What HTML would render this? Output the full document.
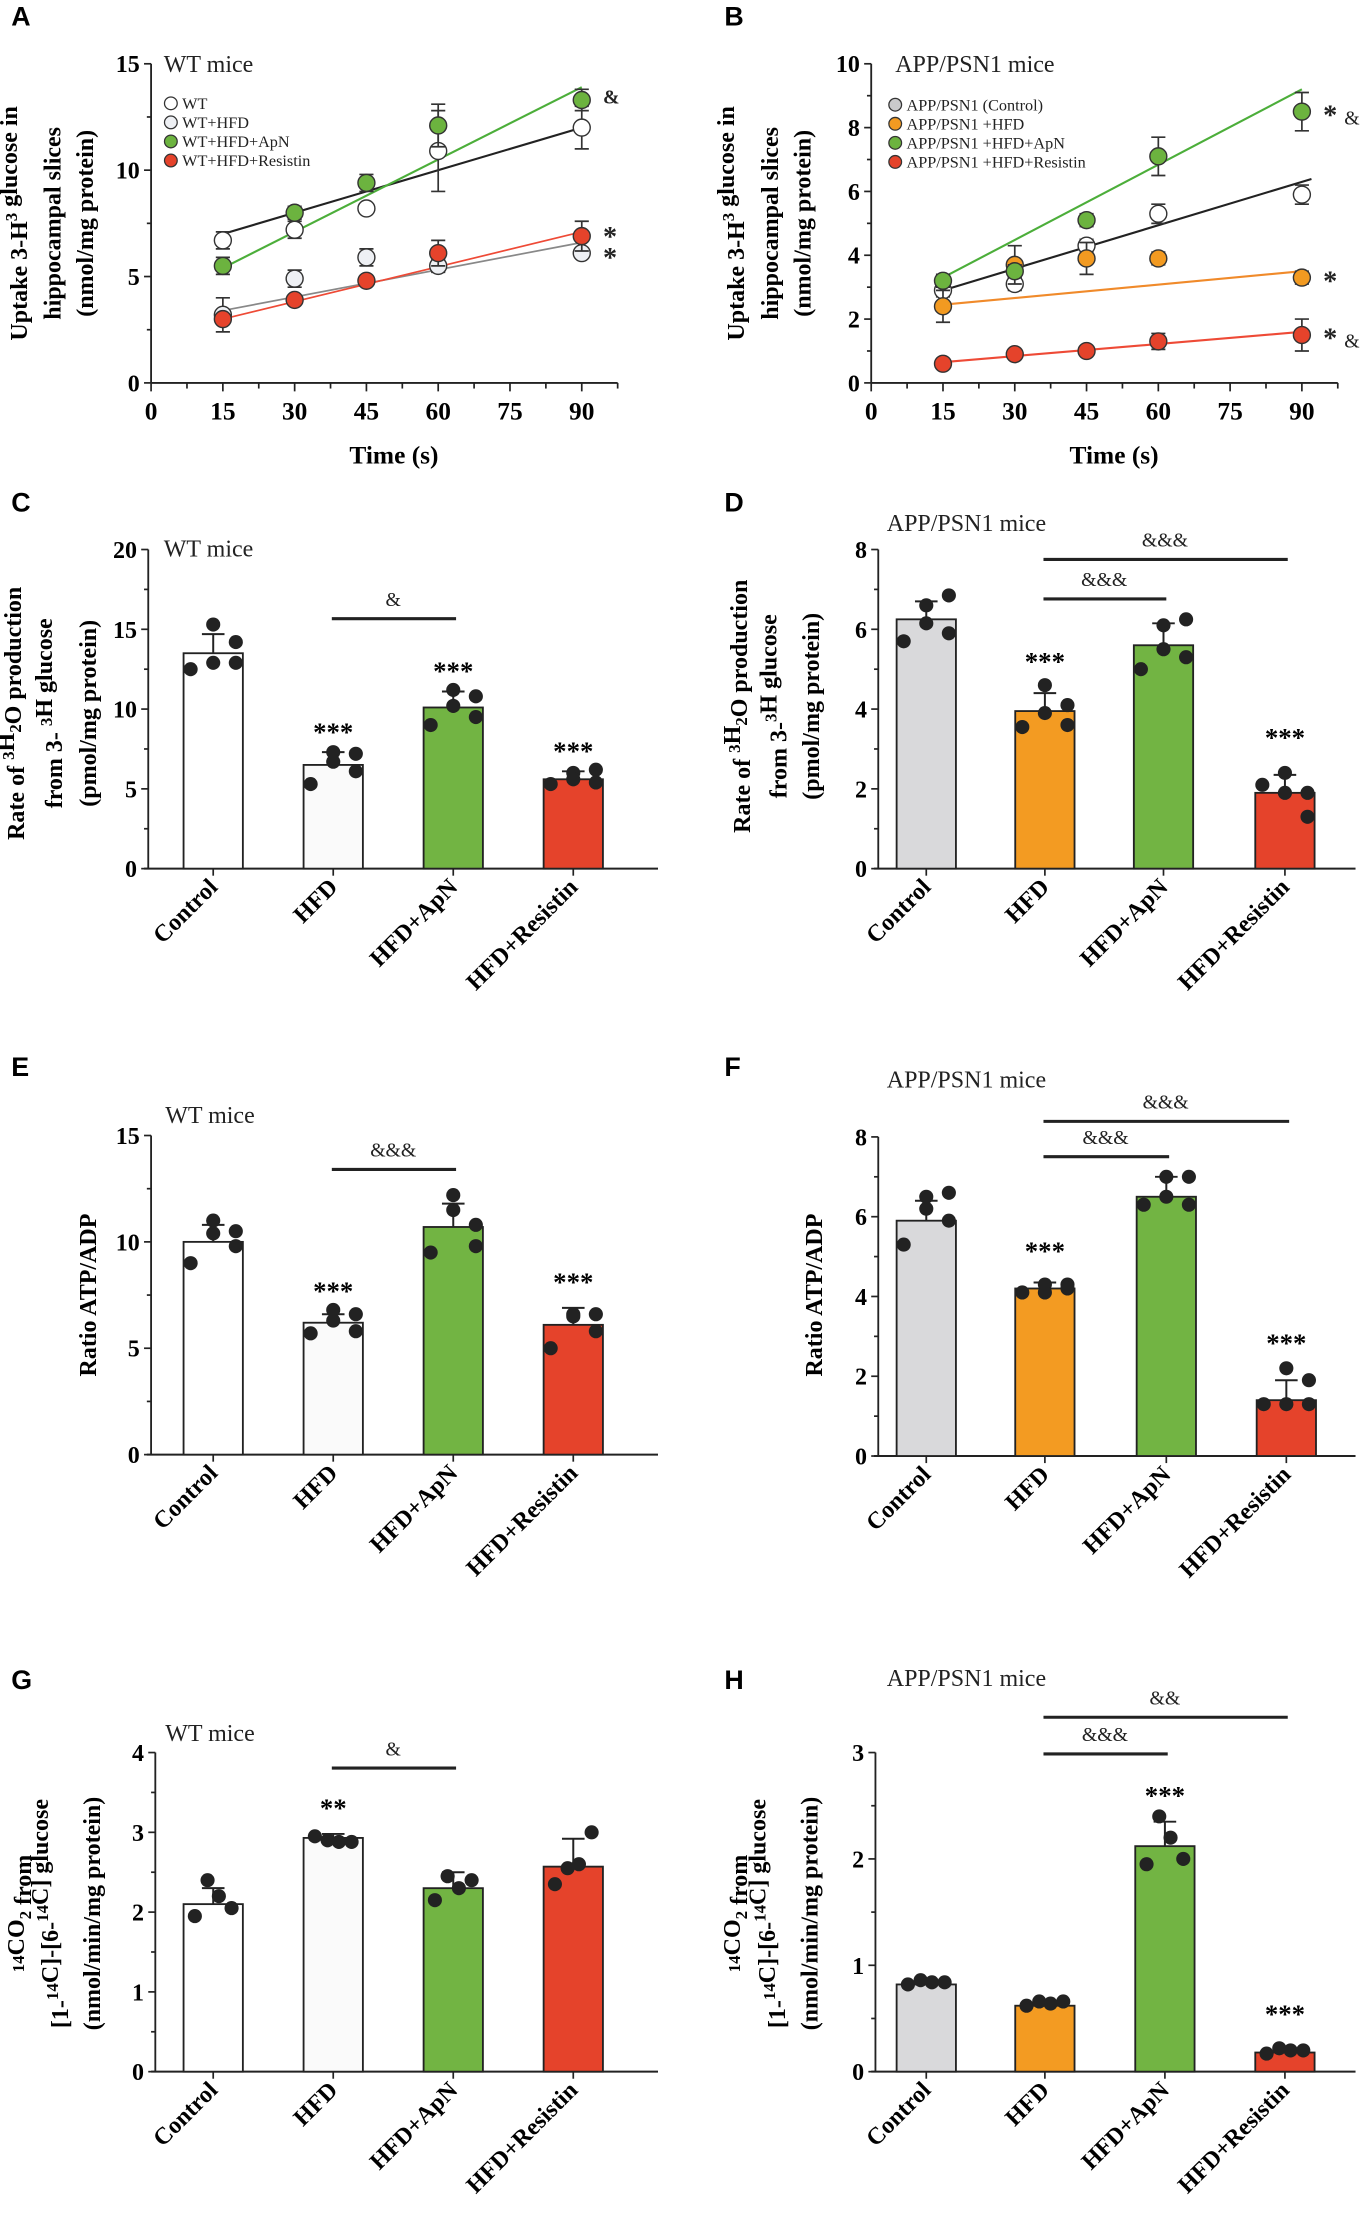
<!DOCTYPE html>
<html><head><meta charset="utf-8">
<style>
html,body{margin:0;padding:0;background:#fff;}
svg{display:block;}
text{font-family:"Liberation Serif",serif;}
.pl{font-family:"Liberation Sans",sans-serif;font-weight:bold;font-size:19px;}
</style></head>
<body>
<svg id="fig" xmlns="http://www.w3.org/2000/svg" width="1364" height="2223" viewBox="0 0 966 1574"></svg>
<script>
// ---------- Panel A data (WT mice, uptake) ----------
const timesA = [15, 30, 45, 60, 90];
const aWT = [6.7, 7.2, 8.2, 10.9, 12.0];
const aWTerr = [0.4, 0.4, 0, 1.9, 1.0];
const aHFD = [3.2, 4.9, 5.9, 5.5, 6.1];
const aHFDerr = [0.8, 0.4, 0.4, 0.3, 0];
const aApN = [5.5, 8.0, 9.4, 12.1, 13.3];
const aApNerr = [0.4, 0.3, 0.4, 1.0, 0.5];
const aRes = [3.0, 3.9, 4.8, 6.1, 6.9];
const aReserr = [0, 0.2, 0.2, 0.6, 0.7];
// fitted line values at start (15 s) and end (90 s) as printed
const aFitWT = [7.0, 12.0];
const aFitHFD = [3.4, 6.6];
const aFitApN = [5.4, 13.9];
const aFitRes = [3.0, 7.1];
// ---------- Panel B data (APP/PSN1 mice, uptake) ----------
const timesB = [15, 30, 45, 60, 90];
const bCtl = [2.9, 3.1, 4.3, 5.3, 5.9];
const bCtlerr = [0.2, 0.2, 0.2, 0.3, 0.3];
const bHFD = [2.4, 3.7, 3.9, 3.9, 3.3];
const bHFDerr = [0.5, 0.6, 0.5, 0.2, 0.2];
const bApN = [3.2, 3.5, 5.1, 7.1, 8.5];
const bApNerr = [0.2, 0.2, 0.2, 0.6, 0.6];
const bRes = [0.6, 0.9, 1.0, 1.3, 1.5];
const bReserr = [0, 0.1, 0.1, 0.25, 0.5];
const bFitCtl = [2.9, 6.3];
const bFitHFD = [2.45, 3.5];
const bFitApN = [3.3, 9.2];
const bFitRes = [0.65, 1.6];
// ---------- Bar categories ----------
const categories = ["Control", "HFD", "HFD+ApN", "HFD+Resistin"];
// C
const cMeans = [13.5, 6.5, 10.1, 5.6];
const cErr = [1.2, 0.8, 1.0, 0.5];
const cDots = [[12.5, 15.3, 12.9, 14.2, 12.9], [5.3, 7.3, 6.7, 7.2, 6.1], [9.0, 11.2, 10.2, 10.8, 9.5], [5.3, 6.0, 5.6, 6.2, 5.4]];
// D
const dMeans = [6.25, 3.95, 5.6, 1.9];
const dErr = [0.45, 0.45, 0.55, 0.45];
const dDots = [[5.7, 6.6, 6.15, 6.85, 5.9], [3.55, 4.6, 3.9, 4.1, 3.6], [5.0, 6.1, 5.5, 6.25, 5.3], [2.1, 2.4, 1.9, 1.3, 1.9]];
// E
const eMeans = [10.0, 6.2, 10.7, 6.1];
const eErr = [0.8, 0.4, 1.1, 0.8];
const eDots = [[9.0, 11.0, 10.4, 10.5, 9.8], [5.7, 6.8, 6.3, 6.6, 5.8], [9.5, 12.2, 11.5, 10.8, 9.8], [5.0, 6.6, 6.5, 6.6, 5.8]];
// F
const fMeans = [5.9, 4.2, 6.5, 1.4];
const fErr = [0.5, 0.15, 0.5, 0.5];
const fDots = [[5.3, 6.5, 6.2, 6.6, 5.9], [4.1, 4.3, 4.1, 4.3, 4.2], [6.3, 7.0, 6.5, 7.0, 6.3], [1.3, 2.2, 1.3, 1.9, 1.3]];
// G
const gMeans = [2.1, 2.93, 2.3, 2.57];
const gErr = [0.2, 0.05, 0.2, 0.35];
const gDots = [[1.95, 2.4, 2.2, 2.05], [2.95, 2.9, 2.88, 2.88], [2.15, 2.45, 2.3, 2.4], [2.35, 2.55, 2.6, 3.0]];
// H
const hMeans = [0.82, 0.62, 2.12, 0.18];
const hErr = [0.04, 0.04, 0.23, 0.04];
const hDots = [[0.82, 0.86, 0.84, 0.84], [0.62, 0.66, 0.64, 0.66], [1.95, 2.4, 2.2, 2.0], [0.17, 0.22, 0.2, 0.2]];

const NS = 'http://www.w3.org/2000/svg';
const fig = document.getElementById('fig');
function mk(tag, attrs, parent) {
  const e = document.createElementNS(NS, tag);
  for (const k in attrs) e.setAttribute(k, attrs[k]);
  (parent || fig).appendChild(e);
  return e;
}
function tx(x, y, html, attrs, parent) {
  const a = Object.assign({x: x, y: y}, attrs || {});
  const t = mk('text', a, parent);
  t.innerHTML = html;
  return t;
}
function grp(name) {
  const g = mk('g', {});
  
  
  return g;
}
function ylab(g, xs, cy, lines, size) {
  lines.forEach((l, i) => {
    const t = tx(xs[i], cy, l, {'font-size': size || 17, 'font-weight': 'bold', 'text-anchor': 'middle', transform: 'rotate(-90 ' + xs[i] + ' ' + cy + ')'}, g);
    
    
  });
}
function yAxis(g, ox, y0, ytop, ymax, major, minor) {
  const sy = v => y0 - (y0 - ytop) * v / ymax;
  const ax = mk('line', {x1: ox, y1: y0, x2: ox, y2: ytop, stroke: '#222', 'stroke-width': 1.3}, g);
  
  
  for (let v = 0; v <= ymax + 1e-9; v += minor) {
    const isMaj = Math.abs(v / major - Math.round(v / major)) < 1e-6;
    mk('line', {x1: ox - (isMaj ? 5 : 3), y1: sy(v), x2: ox, y2: sy(v), stroke: '#222', 'stroke-width': 1.2}, g);
    if (isMaj) {
      const t = tx(ox - 8, sy(v) + 6, String(Math.round(v * 10) / 10), {'font-size': 17, 'font-weight': 'bold', 'text-anchor': 'end'}, g);
      
      
    }
  }
  return sy;
}

function lineChart(c) {
  const g = grp(c.name);
  const sy = yAxis(g, c.ox, c.y0, c.ytop, c.ymax, c.major, c.minor);
  const sx = v => c.ox + v * 3.389;
  const xa = mk('line', {x1: c.ox, y1: c.y0, x2: sx(97.5), y2: c.y0, stroke: '#222', 'stroke-width': 1.3}, g);
  
  
  for (let v = 0; v <= 97.5; v += 7.5) {
    const maj = v % 15 === 0;
    mk('line', {x1: sx(v), y1: c.y0, x2: sx(v), y2: c.y0 + (maj ? 6 : 4), stroke: '#222', 'stroke-width': 1.2}, g);
    if (maj) {
      const t = tx(sx(v), c.y0 + 26, String(v), {'font-size': 18, 'font-weight': 'bold', 'text-anchor': 'middle'}, g);
      
      
    }
  }
  const xt = tx(c.ox + 172, c.y0 + 57, 'Time (s)', {'font-size': 18, 'font-weight': 'bold', 'text-anchor': 'middle'}, g);
  
  
  c.series.forEach(s => {
    const xe = s.xend || 90;
    const f = x => s.fit[0] + (s.fit[1] - s.fit[0]) * (x - 15) / 75;
    const l = mk('line', {x1: sx(15), y1: sy(f(15)), x2: sx(xe), y2: sy(f(xe)), stroke: s.line, 'stroke-width': s.lw || 1.5}, g);
    
    
  });
  c.series.forEach(s => {
    s.v.forEach((v, i) => {
      const x = sx(c.times[i]), e = s.e[i];
      if (e > 0) {
        const eb = mk('path', {d: 'M' + x + ' ' + sy(v - e) + 'V' + sy(v + e) + 'M' + (x - 5) + ' ' + sy(v - e) + 'h10M' + (x - 5) + ' ' + sy(v + e) + 'h10', stroke: '#333', 'stroke-width': 1.2, fill: 'none'}, g);
        
        
      }
      const p = mk('circle', {cx: x, cy: sy(v), r: 6, fill: s.fill, stroke: '#333', 'stroke-width': 1}, g);
      
      
    });
  });
  c.series.forEach((s, i) => {
    const y = c.legY + i * 13.5;
    const m = mk('circle', {cx: c.legX, cy: y, r: 4.5, fill: s.legFill || s.fill, stroke: '#333', 'stroke-width': 0.9}, g);
    
    
    const t = tx(c.legX + 8, y + 4, s.label, {'font-size': 11.5, fill: '#222'}, g);
    
    
  });
  const tt = tx(c.titleX, c.ytop + 6, c.title, {'font-size': 17, fill: '#222'}, g);
  
  
  c.marks.forEach(m => {
    const t = tx(sx(90) + 15, sy(m[0]) + m[2], m[1], {'font-size': m[3] || 15, 'font-weight': 'bold', fill: '#222'}, g);
    
    
  });
  return g;
}

function barChart(c) {
  const g = grp(c.name);
  const sy = yAxis(g, c.ox, c.y0, c.ytop, c.ymax, c.major, c.minor);
  const xa = mk('line', {x1: c.ox - 3, y1: c.y0, x2: c.xend, y2: c.y0, stroke: '#222', 'stroke-width': 1.4}, g);
  
  
  c.means.forEach((m, i) => {
    const cx = c.cx[i], w = 42;
    const b = mk('rect', {x: cx - w / 2, y: sy(m), width: w, height: c.y0 - sy(m), fill: c.colors[i], stroke: '#222', 'stroke-width': 1.3}, g);
    
    
    const top = m + c.err[i];
    const eb = mk('path', {d: 'M' + cx + ' ' + sy(m) + 'V' + sy(top) + 'M' + (cx - 8) + ' ' + sy(top) + 'h16', stroke: '#222', 'stroke-width': 1.4, fill: 'none'}, g);
    
    
    mk('line', {x1: cx, y1: c.y0, x2: cx, y2: c.y0 + 5, stroke: '#222', 'stroke-width': 1.2}, g);
    const dots = c.dots[i];
    const offs = dots.length === 5 ? [-16, 0, 0, 16, 16] : [-13, -4, 4, 13];
    dots.forEach((v, j) => {
      const d = mk('circle', {cx: cx + offs[j], cy: sy(v), r: 5, fill: '#222'}, g);
      
      
    });
    const lx = cx + 4, ly = c.y0 + 14;
    const t = tx(lx, ly, categories[i], {'font-size': 17, 'font-weight': 'bold', 'text-anchor': 'end', transform: 'rotate(-45 ' + lx + ' ' + ly + ')'}, g);
    
    
  });
  c.stars.forEach(s => {
    const i = s[0];
    const t = tx(c.cx[i], sy(c.means[i] + c.err[i]) - s[2], s[1], {'font-size': 19, 'font-weight': 'bold', 'text-anchor': 'middle'}, g);
    
    
  });
  c.brackets.forEach(b => {
    const l = mk('line', {x1: c.cx[b[0]] - 1, y1: b[2], x2: c.cx[b[1]] + 2, y2: b[2], stroke: '#222', 'stroke-width': 2.2}, g);
    
    
    const t = tx((c.cx[b[0]] + c.cx[b[1]]) / 2, b[2] - 9, b[3], {'font-size': 14, 'text-anchor': 'middle', fill: '#222'}, g);
    
    
  });
  const tt = tx(c.titleX, c.titleY, c.title, {'font-size': 17, fill: '#222'}, g);
  
  
  return g;
}

[['A', 8, 18], ['B', 513, 18], ['C', 8, 362], ['D', 513, 362], ['E', 8, 762], ['F', 513, 762], ['G', 8, 1196], ['H', 513, 1196]].forEach(p => {
  const t = tx(p[1], p[2], p[0], {'class': 'pl'});
  
  
});

const sup = s => '<tspan font-size="12" dy="-7">' + s + '</tspan><tspan dy="7"></tspan>';
const sub = s => '<tspan font-size="12" dy="5">' + s + '</tspan><tspan dy="-5"></tspan>';

const gA = lineChart({name: 'panel-a-chart', ox: 107, y0: 271, ytop: 45, ymax: 15, major: 5, minor: 2.5, times: timesA,
  title: 'WT mice', titleX: 116, legX: 121, legY: 73,
  series: [
    {key: 'wt', v: aWT, e: aWTerr, fit: aFitWT, fill: '#fff', line: '#222', label: 'WT'},
    {key: 'wt-hfd', v: aHFD, e: aHFDerr, fit: aFitHFD, fill: '#eef0f4', line: '#888', label: 'WT+HFD', lw: 1.2},
    {key: 'wt-hfd-apn', v: aApN, e: aApNerr, fit: aFitApN, fill: '#6cb33f', line: '#4cae3a', label: 'WT+HFD+ApN'},
    {key: 'wt-hfd-resistin', v: aRes, e: aReserr, fit: aFitRes, fill: '#e5432b', line: '#ee4a36', label: 'WT+HFD+Resistin', lw: 1.2}],
  marks: [[13.4, '&amp;', 4, 14], [6.9, '*', 7, 20], [6.1, '*', 10, 20]]});
ylab(gA, [19, 43, 66], 158, ['Uptake 3-H' + sup('3') + ' glucose in', 'hippocampal slices', '(nmol/mg protein)']);

const gB = lineChart({name: 'panel-b-chart', ox: 617, y0: 271, ytop: 45, ymax: 10, major: 2, minor: 1, times: timesB,
  title: 'APP/PSN1 mice', titleX: 634, legX: 634, legY: 74,
  series: [
    {key: 'app-control', v: bCtl, e: bCtlerr, fit: bFitCtl, fill: '#fff', legFill: '#c9c9cb', line: '#222', label: 'APP/PSN1 (Control)', xend: 92},
    {key: 'app-hfd', v: bHFD, e: bHFDerr, fit: bFitHFD, fill: '#f29a21', line: '#f08a2a', label: 'APP/PSN1 +HFD'},
    {key: 'app-hfd-apn', v: bApN, e: bApNerr, fit: bFitApN, fill: '#6cb33f', line: '#4cae3a', label: 'APP/PSN1 +HFD+ApN'},
    {key: 'app-hfd-resistin', v: bRes, e: bReserr, fit: bFitRes, fill: '#e5432b', line: '#ee4a36', label: 'APP/PSN1 +HFD+Resistin'}],
  marks: [[8.5, '* <tspan font-weight="normal" font-size="14">&amp;</tspan>', 9, 20], [3.3, '*', 9, 20], [1.5, '* <tspan font-weight="normal" font-size="14">&amp;</tspan>', 9, 20]]});
ylab(gB, [527, 551, 574], 158, ['Uptake 3-H' + sup('3') + ' glucose in', 'hippocampal slices', '(nmol/mg protein)']);

const colWT = ['#ffffff', '#fafafa', '#72b443', '#e5432b'];
const colAPP = ['#d9d9db', '#f39b22', '#72b443', '#e5432b'];

const gC = barChart({name: 'panel-c-chart', ox: 105, y0: 615, ytop: 389, ymax: 20, major: 5, minor: 2.5, xend: 466,
  cx: [151, 236, 321, 406], means: cMeans, err: cErr, dots: cDots, colors: colWT,
  stars: [[1, '***', 8], [2, '***', 8], [3, '***', 8]], brackets: [[1, 2, 438, '&amp;']],
  title: 'WT mice', titleX: 116, titleY: 394});
ylab(gC, [17, 44, 68], 505, ['Rate of  ' + sup('3') + 'H' + sub('2') + 'O production', 'from 3- ' + sup('3') + 'H glucose', '(pmol/mg protein)']);

const gD = barChart({name: 'panel-d-chart', ox: 622, y0: 615, ytop: 389, ymax: 8, major: 2, minor: 1, xend: 960,
  cx: [656, 740, 824, 910], means: dMeans, err: dErr, dots: dDots, colors: colAPP,
  stars: [[1, '***', 16], [3, '***', 20]], brackets: [[1, 2, 424, '&amp;&amp;&amp;'], [1, 3, 396, '&amp;&amp;&amp;']],
  title: 'APP/PSN1 mice', titleX: 628, titleY: 376});
ylab(gD, [531, 557, 580], 500, ['Rate of ' + sup('3') + 'H' + sub('2') + 'O production', 'from 3-' + sup('3') + 'H glucose', '(pmol/mg protein)']);

const gE = barChart({name: 'panel-e-chart', ox: 107, y0: 1030, ytop: 804, ymax: 15, major: 5, minor: 2.5, xend: 466,
  cx: [151, 236, 321, 406], means: eMeans, err: eErr, dots: eDots, colors: colWT,
  stars: [[1, '***', 10], [3, '***', 12]], brackets: [[1, 2, 828, '&amp;&amp;&amp;']],
  title: 'WT mice', titleX: 117, titleY: 795});
ylab(gE, [68], 917, ['Ratio ATP/ADP']);

const gF = barChart({name: 'panel-f-chart', ox: 622, y0: 1031, ytop: 805, ymax: 8, major: 2, minor: 1, xend: 960,
  cx: [656, 740, 826, 911], means: fMeans, err: fErr, dots: fDots, colors: colAPP,
  stars: [[1, '***', 16], [3, '***', 20]], brackets: [[1, 2, 819, '&amp;&amp;&amp;'], [1, 3, 794, '&amp;&amp;&amp;']],
  title: 'APP/PSN1 mice', titleX: 628, titleY: 770});
ylab(gF, [582], 917, ['Ratio ATP/ADP']);

const gG = barChart({name: 'panel-g-chart', ox: 110, y0: 1467, ytop: 1241, ymax: 4, major: 1, minor: 0.5, xend: 466,
  cx: [151, 236, 321, 406], means: gMeans, err: gErr, dots: gDots, colors: colWT,
  stars: [[1, '**', 12]], brackets: [[1, 2, 1252, '&amp;']],
  title: 'WT mice', titleX: 117, titleY: 1233});
ylab(gG, [24, 48, 71], 1355, [sup('14') + 'CO' + sub('2') + ' from', '[1-' + sup('14') + 'C]-[6-' + sup('14') + 'C] glucose', '(nmol/min/mg protein)']);

const gH = barChart({name: 'panel-h-chart', ox: 620, y0: 1467, ytop: 1241, ymax: 3, major: 1, minor: 0.5, xend: 960,
  cx: [656, 740, 825, 910], means: hMeans, err: hErr, dots: hDots, colors: colAPP,
  stars: [[2, '***', 12], [3, '***', 18]], brackets: [[1, 2, 1242, '&amp;&amp;&amp;'], [1, 3, 1216, '&amp;&amp;']],
  title: 'APP/PSN1 mice', titleX: 628, titleY: 1194});
ylab(gH, [531, 556, 579], 1355, [sup('14') + 'CO' + sub('2') + ' from', '[1-' + sup('14') + 'C]-[6-' + sup('14') + 'C] glucose', '(nmol/min/mg protein)']);
</script>
</body></html>
